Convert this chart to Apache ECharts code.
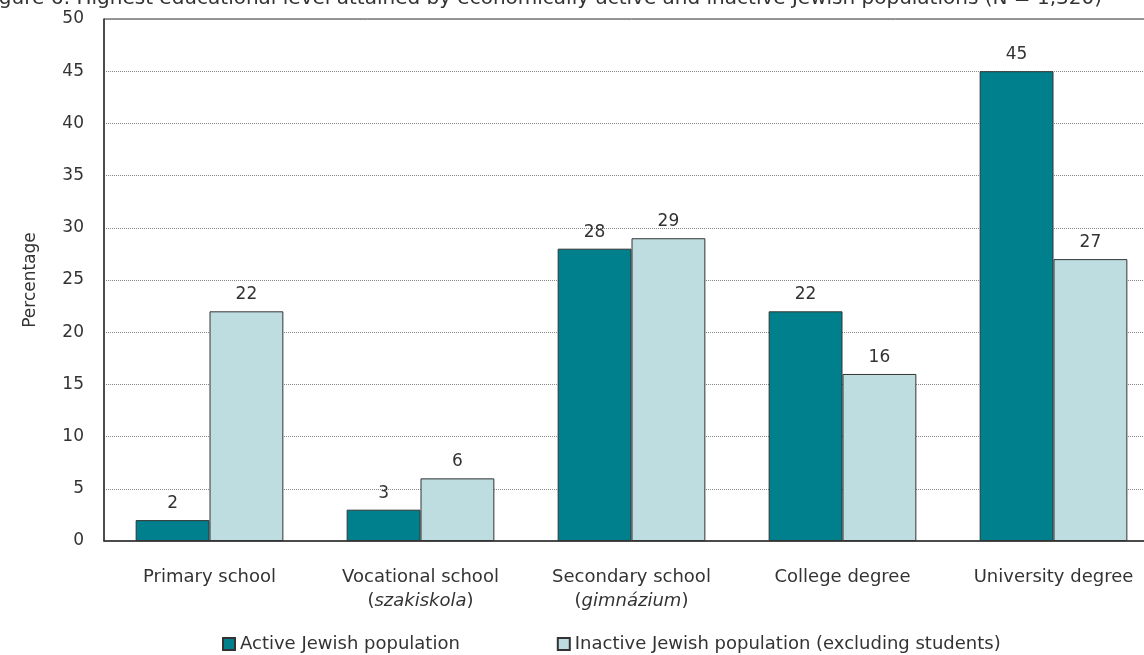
<!DOCTYPE html>
<html>
<head>
<meta charset="utf-8">
<script src="https://cdn.jsdelivr.net/npm/echarts@6/dist/echarts.min.js"></script>
<style>
html,body{margin:0;padding:0;background:#fff;overflow:hidden;}
#chart{width:1159px;height:655px;}
</style>
</head>
<body>
<div id="chart"></div>
<script>
var titleText = 'Figure 6: Highest educational level attained by economically active and inactive Jewish populations (N = 1,320)';
var categories = ['Primary school', 'Vocational school\n({i|szakiskola})', 'Secondary school\n({i|gimnázium})', 'College degree', 'University degree'];
var seriesNames = ['Active Jewish population', 'Inactive Jewish population (excluding students)'];
var activeValues = [2, 3, 28, 22, 45];
var inactiveValues = [22, 6, 29, 16, 27];
var yTicks = {min: 0, max: 50, interval: 5};
var yName = 'Percentage';

var font = "'DejaVu Sans', 'Liberation Sans', Arial, sans-serif";
var chart = echarts.init(document.getElementById('chart'), null, {renderer: 'canvas'});
chart.setOption({
  animation: false,
  backgroundColor: '#ffffff',
  title: {
    text: titleText,
    right: 52,
    top: -16,
    textStyle: {fontFamily: font, fontSize: 20, fontWeight: 'normal', color: '#333'}
  },
  grid: {left: 104, top: 19, bottom: 114, right: 0, show: true, borderColor: '#333', borderWidth: 1, backgroundColor: 'transparent'},
  legend: {
    left: 217, top: 630,
    itemWidth: 12, itemHeight: 12, itemGap: 97,
    icon: 'rect',
    textStyle: {fontFamily: font, fontSize: 18, color: '#333'},
    data: seriesNames
  },
  xAxis: {
    type: 'category',
    data: categories,
    axisLine: {lineStyle: {color: '#333', width: 1.5}},
    axisTick: {show: false},
    axisLabel: {
      margin: 24, fontFamily: font, fontSize: 18, color: '#333', lineHeight: 24, interval: 0,
      rich: {i: {fontStyle: 'italic', fontFamily: font, fontSize: 18, color: '#333'}}
    }
  },
  yAxis: {
    type: 'value',
    min: yTicks.min, max: yTicks.max, interval: yTicks.interval,
    name: yName, nameLocation: 'middle', nameGap: 65, nameRotate: 90,
    nameTextStyle: {fontFamily: font, fontSize: 17, color: '#333'},
    axisLine: {show: true, lineStyle: {color: '#333', width: 1.5}},
    axisTick: {show: false},
    axisLabel: {margin: 20, fontFamily: font, fontSize: 17, color: '#333'},
    splitLine: {show: true, lineStyle: {color: '#888', type: [1, 1], width: 1}}
  },
  series: [
    {
      name: seriesNames[0], type: 'bar', data: activeValues,
      barGap: '0%', barCategoryGap: '30%',
      itemStyle: {color: '#00808d', borderColor: '#333', borderWidth: 1},
      label: {show: true, position: 'top', distance: 8, fontFamily: font, fontSize: 17, color: '#333'}
    },
    {
      name: seriesNames[1], type: 'bar', data: inactiveValues,
      barGap: '0%', barCategoryGap: '30%',
      itemStyle: {color: '#bedde1', borderColor: '#333', borderWidth: 1},
      label: {show: true, position: 'top', distance: 8, fontFamily: font, fontSize: 17, color: '#333'}
    }
  ]
});
</script>
</body>
</html>
